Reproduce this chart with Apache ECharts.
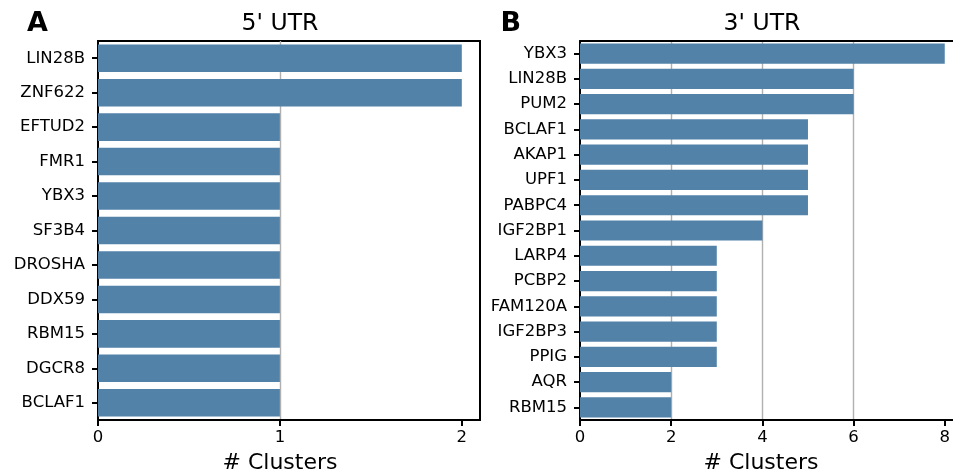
<!DOCTYPE html>
<html><head><meta charset="utf-8">
<script src="https://cdn.jsdelivr.net/npm/echarts@6/dist/echarts.min.js"></script>
<style>html,body{margin:0;padding:0;background:#fff}#c{width:953px;height:475px}</style>
</head><body><div id="c"></div>
<script>
const utr5Genes = ['LIN28B','ZNF622','EFTUD2','FMR1','YBX3','SF3B4','DROSHA','DDX59','RBM15','DGCR8','BCLAF1'];
const utr5Counts = [2,2,1,1,1,1,1,1,1,1,1];
const utr3Genes = ['YBX3','LIN28B','PUM2','BCLAF1','AKAP1','UPF1','PABPC4','IGF2BP1','LARP4','PCBP2','FAM120A','IGF2BP3','PPIG','AQR','RBM15'];
const utr3Counts = [8,6,6,5,5,5,5,4,3,3,3,3,3,2,2];
const utr5Ticks = [0,1,2];
const utr3Ticks = [0,2,4,6,8];

const FONT = 'DejaVu Sans';
const BAR = '#5282a8';
const LW = 2;
const GW = 1.4;

function xAxis(idx, max, interval, ticks){
  return {
    type:'value', gridIndex:idx, min:0, max:max, interval:interval,
    axisLine:{show:true, lineStyle:{color:'#000', width:LW}},
    axisTick:{show:true, length:6, lineStyle:{color:'#000', width:LW}, customValues:ticks},
    axisLabel:{color:'#000', fontFamily:FONT, fontSize:16.5, margin:9, customValues:ticks},
    splitLine:{show:true, showMinLine:false, showMaxLine:false, lineStyle:{color:'#b0b0b0', width:GW}}
  };
}
function topAxis(idx, max){
  return {
    type:'value', gridIndex:idx, position:'top', min:0, max:max,
    axisLine:{show:true, lineStyle:{color:'#000', width:LW}},
    axisTick:{show:false}, axisLabel:{show:false}, splitLine:{show:false}
  };
}
function yAxis(idx, cats){
  return {
    type:'category', gridIndex:idx, data:cats, inverse:true,
    axisLine:{show:true, lineStyle:{color:'#000', width:LW}},
    axisTick:{show:true, alignWithLabel:true, length:6, lineStyle:{color:'#000', width:LW}},
    axisLabel:{color:'#000', fontFamily:FONT, fontSize:16.5, margin:13},
    splitLine:{show:false}
  };
}
function txt(x, y, s, size, weight, align){
  return {type:'text', x:x, y:y, style:{text:s, fill:'#000', font: (weight||'normal')+' '+size+'px "'+FONT+'"', align:align||'center', verticalAlign:'middle'}};
}

const chart = echarts.init(document.getElementById('c'), null, {renderer:'canvas'});
chart.setOption({
  animation:false,
  backgroundColor:'#fff',
  grid:[
    {left:98, top:41, width:382, height:379, show:true, borderColor:'#000', borderWidth:LW, backgroundColor:'transparent'},
    {left:580, top:41, width:373, height:379, show:false}
  ],
  xAxis:[xAxis(0, 2.1, 1, utr5Ticks), xAxis(1, 8.175, 2, utr3Ticks), topAxis(1, 8.175)],
  yAxis:[yAxis(0, utr5Genes), yAxis(1, utr3Genes)],
  series:[
    {type:'bar', xAxisIndex:0, yAxisIndex:0, data:utr5Counts, barCategoryGap:'20%', itemStyle:{color:BAR}},
    {type:'bar', xAxisIndex:1, yAxisIndex:1, data:utr3Counts, barCategoryGap:'20%', itemStyle:{color:BAR}}
  ],
  graphic:[
    txt(280, 24, "5' UTR", 23.5),
    txt(762, 24, "3' UTR", 23.5),
    txt(280, 463, '# Clusters', 22),
    txt(761, 463, '# Clusters', 22),
    txt(27, 23.5, 'A', 27, 'bold', 'left'),
    txt(500.5, 23.5, 'B', 27, 'bold', 'left')
  ]
});
</script></body></html>
